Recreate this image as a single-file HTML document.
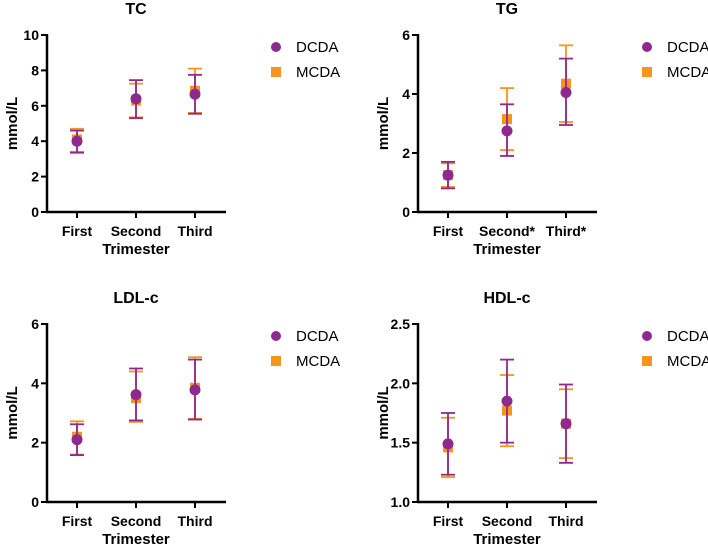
<!DOCTYPE html>
<html><head><meta charset="utf-8"><style>
body{margin:0;background:#fff;width:708px;height:545px;overflow:hidden}
svg text{font-family:"Liberation Sans",Arial,sans-serif}
</style></head><body>
<svg id="chart" width="708" height="545"></svg>
<script>
const categoriesTC=["First","Second","Third"];
const categoriesTG=["First","Second*","Third*"];
const categoriesLDL=["First","Second","Third"];
const categoriesHDL=["First","Second","Third"];
const tcDcdaMean=[4.0,6.4,6.65];
const tcDcdaLow=[3.35,5.3,5.55];
const tcDcdaHigh=[4.6,7.45,7.75];
const tcMcdaMean=[4.1,6.3,6.85];
const tcMcdaLow=[3.4,5.35,5.6];
const tcMcdaHigh=[4.7,7.25,8.1];
const tgDcdaMean=[1.25,2.75,4.05];
const tgDcdaLow=[0.8,1.9,2.95];
const tgDcdaHigh=[1.7,3.65,5.2];
const tgMcdaMean=[1.25,3.15,4.35];
const tgMcdaLow=[0.85,2.1,3.05];
const tgMcdaHigh=[1.65,4.2,5.65];
const ldlDcdaMean=[2.1,3.62,3.78];
const ldlDcdaLow=[1.58,2.75,2.78];
const ldlDcdaHigh=[2.62,4.5,4.8];
const ldlMcdaMean=[2.2,3.5,3.85];
const ldlMcdaLow=[1.6,2.7,2.8];
const ldlMcdaHigh=[2.72,4.4,4.88];
const hdlDcdaMean=[1.49,1.85,1.66];
const hdlDcdaLow=[1.23,1.5,1.33];
const hdlDcdaHigh=[1.75,2.2,1.99];
const hdlMcdaMean=[1.46,1.77,1.66];
const hdlMcdaLow=[1.21,1.47,1.37];
const hdlMcdaHigh=[1.71,2.07,1.95];
const tcTicks=["0","2","4","6","8","10"];
const tgTicks=["0","2","4","6"];
const ldlTicks=["0","2","4","6"];
const hdlTicks=["1.0","1.5","2.0","2.5"];

const NS="http://www.w3.org/2000/svg";
const svg=document.getElementById('chart');
const PURPLE="#8E2A8F",ORANGE="#F7941D";
function el(tag,attrs,parent,text){const e=document.createElementNS(NS,tag);for(const k in attrs)e.setAttribute(k,attrs[k]);if(text!==undefined)e.textContent=text;(parent||svg).appendChild(e);return e;}

function panel(p){
  const g=el('g',{});
  
  
  const ymin=parseFloat(p.ticks[0]),ymax=parseFloat(p.ticks[p.ticks.length-1]);
  const y=v=>p.bottom-(v-ymin)/(ymax-ymin)*(p.bottom-p.top);
  const xs=[p.ax+30,p.ax+89,p.ax+148];
  const t=el('text',{x:p.ax+89,y:p.top-21,'text-anchor':'middle','font-size':16,'font-weight':'bold'},g,p.title);
  
  
  el('line',{x1:p.ax,y1:p.top-1,x2:p.ax,y2:p.bottom+1,stroke:'#000','stroke-width':2.5},g);
  el('line',{x1:p.ax-1,y1:p.bottom,x2:p.ax+179,y2:p.bottom,stroke:'#000','stroke-width':2.5},g);
  p.ticks.forEach(tk=>{
    const yy=y(parseFloat(tk));
    el('line',{x1:p.ax-6,y1:yy,x2:p.ax,y2:yy,stroke:'#000','stroke-width':2},g);
    const lb=el('text',{x:p.ax-8,y:yy+5,'text-anchor':'end','font-size':14,'font-weight':'bold'},g,tk);
    
    
  });
  const yt=el('text',{transform:`translate(${p.ax-30},${(p.top+p.bottom)/2}) rotate(-90)`,'text-anchor':'middle','font-size':15,'font-weight':'bold'},g,'mmol/L');
  
  
  p.cats.forEach((c,i)=>{
    el('line',{x1:xs[i],y1:p.bottom,x2:xs[i],y2:p.bottom+6,stroke:'#000','stroke-width':2},g);
    const lb=el('text',{x:xs[i],y:p.bottom+24,'text-anchor':'middle','font-size':14,'font-weight':'bold'},g,c);
    
    
  });
  const xt=el('text',{x:xs[1],y:p.bottom+42,'text-anchor':'middle','font-size':15,'font-weight':'bold'},g,'Trimester');
  
  
  function err(xx,lo,hi,col){
    el('line',{x1:xx,y1:y(lo),x2:xx,y2:y(hi),stroke:col,'stroke-width':1.8},g);
    el('line',{x1:xx-7,y1:y(lo),x2:xx+7,y2:y(lo),stroke:col,'stroke-width':1.8},g);
    el('line',{x1:xx-7,y1:y(hi),x2:xx+7,y2:y(hi),stroke:col,'stroke-width':1.8},g);
  }
  p.cats.forEach((c,i)=>{
    err(xs[i],p.mLow[i],p.mHigh[i],ORANGE);
    const s=el('rect',{x:xs[i]-5,y:y(p.mMean[i])-5,width:10,height:10,fill:ORANGE},g);
    
    
  });
  p.cats.forEach((c,i)=>{
    err(xs[i],p.dLow[i],p.dHigh[i],PURPLE);
    const s=el('circle',{cx:xs[i],cy:y(p.dMean[i]),r:5.5,fill:PURPLE},g);
    
    
  });
  const lx=p.ax+229,ly=p.top+12;
  el('circle',{cx:lx,cy:ly,r:5,fill:PURPLE},g);
  const l1=el('text',{x:lx+20,y:ly+5,'font-size':15},g,'DCDA');
  
  
  el('rect',{x:lx-5,y:ly+20,width:10,height:10,fill:ORANGE},g);
  const l2=el('text',{x:lx+20,y:ly+30,'font-size':15},g,'MCDA');
  
  
}
panel({key:'tc',title:'TC',ax:47,top:35,bottom:212,ticks:tcTicks,cats:categoriesTC,dMean:tcDcdaMean,dLow:tcDcdaLow,dHigh:tcDcdaHigh,mMean:tcMcdaMean,mLow:tcMcdaLow,mHigh:tcMcdaHigh});
panel({key:'tg',title:'TG',ax:418,top:35,bottom:212,ticks:tgTicks,cats:categoriesTG,dMean:tgDcdaMean,dLow:tgDcdaLow,dHigh:tgDcdaHigh,mMean:tgMcdaMean,mLow:tgMcdaLow,mHigh:tgMcdaHigh});
panel({key:'ldl',title:'LDL-c',ax:47,top:324,bottom:502,ticks:ldlTicks,cats:categoriesLDL,dMean:ldlDcdaMean,dLow:ldlDcdaLow,dHigh:ldlDcdaHigh,mMean:ldlMcdaMean,mLow:ldlMcdaLow,mHigh:ldlMcdaHigh});
panel({key:'hdl',title:'HDL-c',ax:418,top:324,bottom:502,ticks:hdlTicks,cats:categoriesHDL,dMean:hdlDcdaMean,dLow:hdlDcdaLow,dHigh:hdlDcdaHigh,mMean:hdlMcdaMean,mLow:hdlMcdaLow,mHigh:hdlMcdaHigh});
</script>
</body></html>
